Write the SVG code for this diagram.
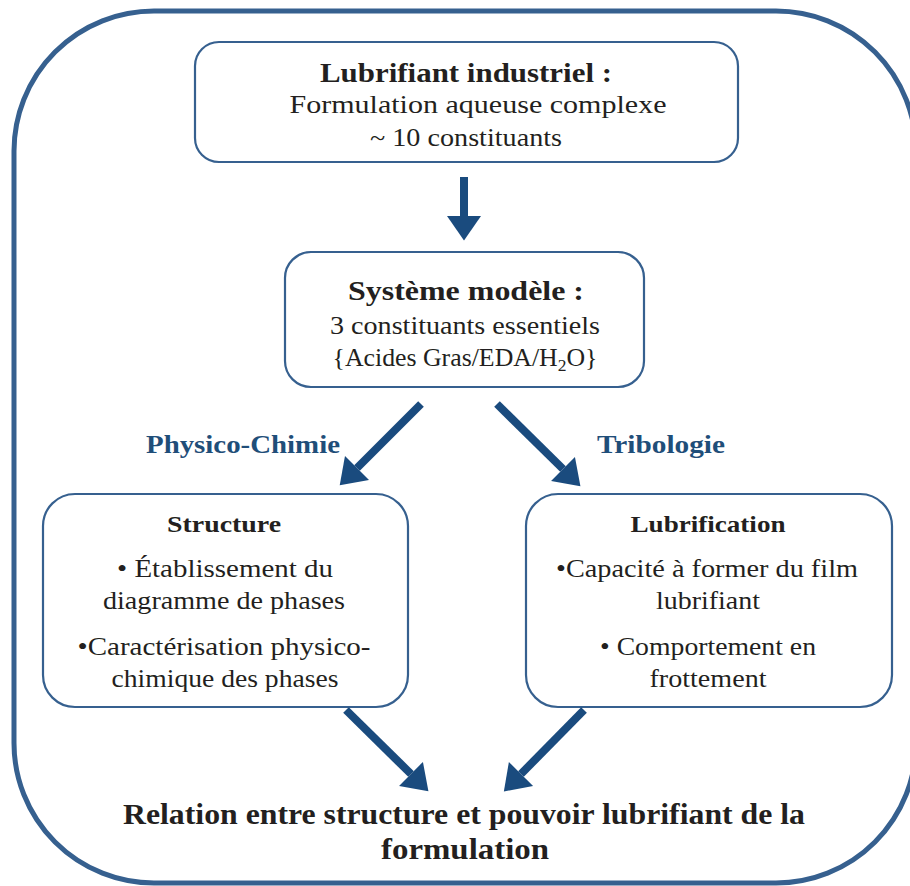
<svg xmlns="http://www.w3.org/2000/svg" width="910" height="886" viewBox="0 0 910 886">
<defs>
<style>
.box{fill:#fff;stroke:#36608f;stroke-width:2.2}
.frame{fill:none;stroke:#36608f;stroke-width:5}
.t{font-family:"Liberation Serif","Times New Roman",serif;fill:#231f20;text-anchor:middle}
.b{font-weight:bold}
.n{font-size:25px}
.h{font-size:28px}
.lab{font-family:"Liberation Serif","Times New Roman",serif;font-weight:bold;font-size:25px;fill:#1f4e79;text-anchor:middle}
.arr{stroke:#1a4b7e;stroke-width:8;fill:none}
</style>
<marker id="ah" markerUnits="userSpaceOnUse" markerWidth="30" markerHeight="34" refX="0" refY="16" orient="auto" viewBox="0 0 24 32">
<path d="M0,0 L23,16 L0,32 z" fill="#1a4b7e"/>
</marker>
</defs>
<rect class="frame" x="14" y="11" width="902" height="872" rx="140" ry="140"/>
<g id="lubrifiant-industriel">
<rect class="box" x="195" y="42" width="543" height="120" rx="24"/>
<text class="t b h" x="466" y="82" textLength="292" lengthAdjust="spacingAndGlyphs">Lubrifiant industriel :</text>
<text class="t n" x="478" y="113" textLength="377" lengthAdjust="spacingAndGlyphs">Formulation aqueuse  complexe</text>
<text class="t n" x="466" y="146" textLength="192" lengthAdjust="spacingAndGlyphs">~ 10 constituants</text>
</g>
<g id="systeme-modele">
<rect class="box" x="285" y="252" width="359" height="135" rx="26"/>
<text class="t b h" x="466" y="300" textLength="236" lengthAdjust="spacingAndGlyphs">Système modèle :</text>
<text class="t n" x="465" y="334" textLength="270" lengthAdjust="spacingAndGlyphs">3 constituants  essentiels</text>
<text class="t n" x="465" y="366" textLength="265" lengthAdjust="spacingAndGlyphs">{Acides Gras/EDA/H<tspan font-size="17" dy="5">2</tspan><tspan dy="-5">O}</tspan></text>
</g>
<g id="physico-chimie-label">
<text class="lab" x="243" y="453" textLength="194" lengthAdjust="spacingAndGlyphs">Physico-Chimie</text>
</g>
<g id="tribologie-label">
<text class="lab" x="661" y="453" textLength="128" lengthAdjust="spacingAndGlyphs">Tribologie</text>
</g>
<g id="structure">
<rect class="box" x="43" y="494" width="365" height="213" rx="32"/>
<text class="t b" font-size="24" x="224" y="532" textLength="114" lengthAdjust="spacingAndGlyphs">Structure</text>
<text class="t n" x="225" y="577" textLength="216" lengthAdjust="spacingAndGlyphs">• Établissement du</text>
<text class="t n" x="224" y="609" textLength="242" lengthAdjust="spacingAndGlyphs">diagramme de phases</text>
<text class="t n" x="224" y="655" textLength="293" lengthAdjust="spacingAndGlyphs">•Caractérisation  physico-</text>
<text class="t n" x="225" y="687" textLength="227" lengthAdjust="spacingAndGlyphs">chimique des phases</text>
</g>
<g id="lubrification">
<rect class="box" x="526" y="494" width="366" height="213" rx="32"/>
<text class="t b" font-size="24" x="708" y="532" textLength="155" lengthAdjust="spacingAndGlyphs">Lubrification</text>
<text class="t n" x="707" y="577" textLength="302" lengthAdjust="spacingAndGlyphs">•Capacité à former du film</text>
<text class="t n" x="708" y="609" textLength="104" lengthAdjust="spacingAndGlyphs">lubrifiant</text>
<text class="t n" x="708" y="655" textLength="216" lengthAdjust="spacingAndGlyphs">• Comportement  en</text>
<text class="t n" x="708" y="687" textLength="117" lengthAdjust="spacingAndGlyphs">frottement</text>
</g>
<g id="relation">
<text class="t b" font-size="29" x="464" y="824" textLength="682" lengthAdjust="spacingAndGlyphs">Relation entre structure et pouvoir lubrifiant de la</text>
<text class="t b" font-size="29" x="465" y="859" textLength="168" lengthAdjust="spacingAndGlyphs">formulation</text>
</g>
<g id="connectors">
<line class="arr" x1="464" y1="177" x2="464" y2="216" marker-end="url(#ah)"/>
<line class="arr" x1="421" y1="404" x2="357" y2="468" marker-end="url(#ah)"/>
<line class="arr" x1="497" y1="404" x2="563" y2="469" marker-end="url(#ah)"/>
<line class="arr" x1="346" y1="710" x2="411" y2="774" marker-end="url(#ah)"/>
<line class="arr" x1="584" y1="710" x2="521" y2="774" marker-end="url(#ah)"/>
</g>
</svg>
